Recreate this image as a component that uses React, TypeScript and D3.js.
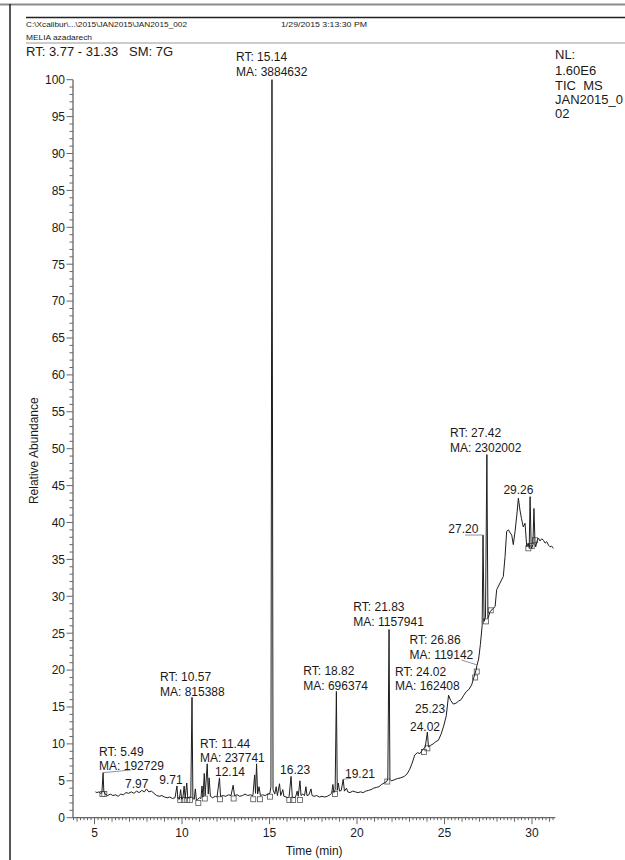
import React from 'react';
import * as d3 from 'd3';

// ---------- data ----------
const traceTime = [
  5.05, 5.15, 5.25, 5.35, 5.42, 5.49, 5.53, 5.6, 5.75, 5.9, 6.05, 6.2, 6.35, 6.5, 6.65, 6.8, 6.95, 7.1, 7.25, 7.4,
  7.55, 7.7, 7.85, 7.97, 8.1, 8.25, 8.4, 8.55, 8.7, 8.85, 9.0, 9.15, 9.3, 9.45, 9.6, 9.71, 9.76, 9.85, 9.92, 9.98,
  10.05, 10.12, 10.18, 10.27, 10.33, 10.42, 10.5, 10.57, 10.62, 10.7, 10.76, 10.82, 10.9, 11.0, 11.08, 11.14, 11.2, 11.27, 11.32, 11.44,
  11.5, 11.55, 11.62, 11.75, 11.9, 12.0, 12.14, 12.2, 12.35, 12.5, 12.65, 12.8, 12.92, 13.0, 13.15, 13.3, 13.45, 13.6, 13.75, 13.9,
  14.05, 14.15, 14.2, 14.26, 14.32, 14.4, 14.48, 14.6, 14.75, 14.9, 15.02, 15.08, 15.14, 15.2, 15.3, 15.38, 15.45, 15.57, 15.64, 15.76,
  15.82, 15.95, 16.05, 16.12, 16.23, 16.3, 16.4, 16.5, 16.58, 16.64, 16.74, 16.8, 16.9, 17.0, 17.08, 17.14, 17.25, 17.37, 17.43, 17.55,
  17.7, 17.85, 18.0, 18.15, 18.3, 18.45, 18.55, 18.62, 18.68, 18.75, 18.82, 18.87, 18.93, 19.0, 19.1, 19.21, 19.28, 19.4, 19.47, 19.6,
  19.75, 19.9, 20.05, 20.2, 20.35, 20.5, 20.65, 20.8, 20.95, 21.1, 21.25, 21.4, 21.55, 21.7, 21.76, 21.83, 21.88, 21.95, 22.1, 22.3,
  22.5, 22.7, 22.85, 23.0, 23.15, 23.3, 23.45, 23.6, 23.75, 23.9, 24.02, 24.08, 24.2, 24.35, 24.5, 24.65, 24.8, 24.95, 25.1, 25.23,
  25.35, 25.5, 25.65, 25.8, 25.95, 26.1, 26.25, 26.4, 26.55, 26.7, 26.8, 26.86, 26.95, 27.05, 27.15, 27.2, 27.26, 27.34, 27.42, 27.48,
  27.6, 27.75, 27.89, 27.98, 28.17, 28.36, 28.46, 28.55, 28.65, 28.75, 28.84, 28.93, 29.03, 29.13, 29.22, 29.31, 29.4, 29.5, 29.6, 29.7,
  29.78, 29.84, 29.89, 29.95, 29.98, 30.05, 30.11, 30.17, 30.21, 30.3, 30.36, 30.45, 30.55, 30.65, 30.75, 30.84, 30.95, 31.03, 31.12, 31.22,
];
const traceAbundance = [
  3.5, 3.4, 3.5, 3.3, 3.4, 6.1, 3.6, 3.2, 3.0, 3.2, 3.0, 3.1, 2.9, 3.2, 3.1, 3.4, 3.3, 3.5, 3.3, 3.6,
  3.4, 3.7, 3.5, 3.9, 3.5, 3.6, 3.3, 3.0, 2.9, 3.0, 2.8, 2.7, 2.8, 2.6, 2.7, 4.3, 2.6, 2.5, 3.8, 2.5,
  2.7, 4.3, 2.6, 4.7, 2.6, 2.8, 2.7, 16.3, 2.6, 2.5, 3.9, 2.4, 2.5, 2.7, 2.6, 4.3, 2.8, 6.0, 3.0, 7.3,
  3.2, 5.4, 2.9, 2.7, 2.9, 2.8, 5.4, 2.9, 3.0, 2.9, 3.1, 3.0, 4.4, 3.0, 3.1, 2.9, 3.0, 3.2, 3.0, 3.1,
  3.0, 5.8, 3.3, 7.3, 3.2, 4.2, 3.0, 3.1, 3.0, 3.2, 3.3, 4.2, 100, 3.8, 3.2, 4.2, 3.0, 4.6, 3.0, 3.8,
  2.9, 2.8, 2.7, 2.9, 5.6, 2.8, 2.7, 2.9, 3.6, 2.9, 5.0, 3.0, 3.2, 3.0, 4.2, 3.0, 3.1, 3.9, 3.0, 2.9,
  3.0, 2.8, 2.9, 2.8, 2.9, 3.1, 3.3, 4.5, 3.4, 3.8, 17.1, 3.7, 4.7, 3.6, 3.7, 5.2, 3.6, 4.0, 3.5, 3.4,
  3.6, 3.5, 3.4, 3.5, 3.4, 3.6, 3.7, 3.8, 4.0, 4.1, 4.2, 4.5, 4.7, 4.9, 5.3, 25.5, 5.2, 5.0, 5.1, 5.3,
  5.4, 5.6, 5.9, 6.5, 7.4, 8.5, 8.8, 8.7, 9.2, 9.6, 11.6, 9.6, 9.8, 10.0, 10.3, 10.5, 11.3, 12.4, 13.8, 16.6,
  15.9, 15.4, 15.5, 15.8, 16.0, 16.6, 17.1, 17.4, 18.0, 19.2, 20.0, 20.7, 21.5, 23.5, 26.0, 38.3, 26.6, 27.2, 49.2, 27.0,
  27.9, 28.3, 28.6, 30.9, 31.8, 32.7, 35.4, 38.8, 39.0, 38.6, 38.3, 37.0, 38.8, 41.0, 43.3, 41.7, 40.5, 39.4, 39.9, 36.7,
  37.2, 36.6, 43.5, 36.8, 36.5, 37.0, 41.9, 37.2, 36.7, 37.6, 37.9, 37.5, 37.8, 37.6, 37.2, 37.4, 36.9, 36.7, 36.8, 36.5,
];

// labelled peaks
const peakRT = [5.49, 7.97, 9.71, 10.57, 11.44, 12.14, 15.14, 16.23, 18.82, 19.21, 21.83, 24.02, 25.23, 24.02, 26.86, 27.2, 27.42, 29.26];
const peakRTText = ['5.49', '7.97', '9.71', '10.57', '11.44', '12.14', '15.14', '16.23', '18.82', '19.21', '21.83', '24.02', '25.23', '24.02', '26.86', '27.20', '27.42', '29.26'];
const peakArea: (number | null)[] = [192729, null, null, 815388, 237741, null, 3884632, null, 696374, null, 1157941, 162408, null, null, 119142, null, 2302002, null];

// peak integration boundary markers
const markerTime = [5.45, 5.56, 9.9, 10.1, 10.3, 10.45, 10.93, 11.3, 12.17, 12.95, 14.07, 14.46, 15.03, 16.13, 16.35, 16.74, 18.74, 21.73, 23.83, 24.02, 26.75, 26.84, 27.37, 27.64, 29.79, 29.98, 30.17];
const markerValue = [3.2, 3.2, 2.4, 2.4, 2.4, 2.4, 2.0, 2.6, 2.5, 2.6, 2.5, 2.5, 2.85, 2.4, 2.4, 2.4, 3.2, 4.9, 8.9, 9.4, 19.0, 19.8, 26.6, 28.1, 36.5, 36.8, 37.6];

const xMajorTicks = [5, 10, 15, 20, 25, 30];
const yMajorTicks = [0, 5, 10, 15, 20, 25, 30, 35, 40, 45, 50, 55, 60, 65, 70, 75, 80, 85, 90, 95, 100];

const headerPath = 'C:\\Xcalibur\\...\\2015\\JAN2015\\JAN2015_002';
const headerDate = '1/29/2015 3:13:30 PM';
const headerSample = 'MELIA azadarech';
const rangeText = 'RT: 3.77 - 31.33   SM: 7G';
const nlLines = ['NL:', '1.60E6', 'TIC  MS', 'JAN2015_0', '02'];
const xTitle = 'Time (min)';
const yTitle = 'Relative Abundance';

// ---------- layout (pixel offsets of labels relative to peak apex) ----------
const labelDx = [-4, -21.5, -17.6, -32, -7.2, -4.5, -36, -11, -33.1, 1.8, -35.7, -32.4, -33.5, -17.4, -67.6, -34.7, -36.9, -15.7];
const labelDy = [-16.7, -1.3, -1.7, -16.4, -16.2, -1.8, -18.7, -2.1, -16.5, -1.7, -18.5, -56.1, 17.4, -1.1, -20.6, -2.4, -17.6, -3.9];
const leaderEnd: ([number, number] | null)[] = [
  [28, -2.7], null, null, null, null, null, null, null, null, [8, -1], null, null, null, null, [-15.6, -4.9], [-18, 0], null, null,
];

const W = 625;
const H = 860;
const FONT = '"Liberation Sans", Arial, "DejaVu Sans", sans-serif';

export default function App() {
  const x = d3.scaleLinear().domain([3.77, 31.33]).range([73, 555.3]);
  const y = d3.scaleLinear().domain([0, 100]).range([817.7, 79.7]);

  const pts: [number, number][] = traceTime.map((t, i) => [t, traceAbundance[i]]);
  const line = d3
    .line<[number, number]>()
    .x((d) => x(d[0]))
    .y((d) => y(d[1]));

  const apexValue = (rt: number) => {
    let best = 0;
    pts.forEach(([t, v]) => {
      if (Math.abs(t - rt) <= 0.061 && v > best) best = v;
    });
    return best;
  };

  const xMinor = d3.range(3.8, 31.33, 0.2).map((v) => Math.round(v * 10) / 10);
  const yMinor = d3.range(0, 101, 1);

  const axisColor = '#666';
  const textColor = '#1a1a1a';
  const y0 = y(0);
  const xAxisLeft = x(3.77);

  return (
    <svg
      width={W}
      height={H}
      style={{ position: 'absolute', left: 0, top: 0, background: '#fff' }}
      fontFamily={FONT}
    >
      <rect x={0} y={0} width={W} height={H} fill="#fff" />
      {/* page frame */}
      <line x1={0} x2={W} y1={4.5} y2={4.5} stroke="#8a8a8a" strokeWidth={2} />
      <line x1={10} x2={10} y1={4} y2={H} stroke="#111" strokeWidth={1.4} />
      {/* header */}
      <line x1={26} x2={W} y1={17.5} y2={17.5} stroke="#222" strokeWidth={1.6} />
      <text x={26} y={27} fontSize={8} fill={textColor} textLength={161} lengthAdjust="spacingAndGlyphs">
        {headerPath}
      </text>
      <text x={281} y={27} fontSize={8} fill={textColor} textLength={86} lengthAdjust="spacingAndGlyphs">
        {headerDate}
      </text>
      <text x={26} y={40} fontSize={8} fill={textColor} textLength={66} lengthAdjust="spacingAndGlyphs">
        {headerSample}
      </text>
      <line x1={26} x2={W} y1={43} y2={43} stroke="#999" strokeWidth={1} />
      <text x={26} y={56} fontSize={13} fill={textColor} style={{ whiteSpace: 'pre' }}>
        {rangeText}
      </text>

      {/* NL block */}
      {nlLines.map((s, i) => (
        <text key={s} x={555} y={[59, 75, 90, 104, 118][i]} fontSize={13} fill={textColor} style={{ whiteSpace: 'pre' }}>
          {s}
        </text>
      ))}

      {/* y axis */}
      <line x1={xAxisLeft} x2={xAxisLeft} y1={y(100)} y2={y0} stroke={axisColor} strokeWidth={1.3} />
      {yMinor.map((v) => (
        <line
          key={'ym' + v}
          x1={xAxisLeft - (v % 5 === 0 ? 6.5 : 3.5)}
          x2={xAxisLeft}
          y1={y(v)}
          y2={y(v)}
          stroke={axisColor}
          strokeWidth={1}
        />
      ))}
      {yMajorTicks.map((v) => (
        <text key={'yl' + v} x={xAxisLeft - 8} y={y(v) + 4.3} fontSize={12} textAnchor="end" fill={textColor}>
          {v}
        </text>
      ))}
      <text
        transform={`translate(38,${(y(0) + y(100)) / 2 + 2}) rotate(-90)`}
        fontSize={12}
        textAnchor="middle"
        fill={textColor}
      >
        {yTitle}
      </text>

      {/* x axis */}
      <line x1={xAxisLeft} x2={x(31.33)} y1={y0} y2={y0} stroke={axisColor} strokeWidth={1.3} />
      {xMinor.map((v) => {
        const major = Math.abs(v % 5) < 0.01 || Math.abs((v % 5) - 5) < 0.01;
        const whole = Math.abs(v - Math.round(v)) < 0.01;
        return (
          <line
            key={'xm' + v}
            x1={x(v)}
            x2={x(v)}
            y1={y0}
            y2={y0 + (major ? 6.5 : whole ? 4 : 2.5)}
            stroke={axisColor}
            strokeWidth={1}
          />
        );
      })}
      {xMajorTicks.map((v) => (
        <text key={'xl' + v} x={x(v)} y={837} fontSize={12} textAnchor="middle" fill={textColor}>
          {v}
        </text>
      ))}
      <text x={(x(3.77) + x(31.33)) / 2} y={855} fontSize={12} textAnchor="middle" fill={textColor}>
        {xTitle}
      </text>

      {/* markers */}
      {markerTime.map((t, i) => (
        <rect
          key={'mk' + i}
          x={x(t) - 2.5}
          y={y(markerValue[i]) - 2.5}
          width={5}
          height={5}
          fill="none"
          stroke="#555"
          strokeWidth={0.8}
        />
      ))}

      {/* trace */}
      <path d={line(pts) || ''} fill="none" stroke="#1e1e1e" strokeWidth={1} strokeLinejoin="round" />

      {/* peak labels */}
      {peakRT.map((rt, i) => {
        const ax = x(rt);
        const ay = y(apexValue(rt));
        const lx = ax + labelDx[i];
        const ly = ay + labelDy[i];
        const area = peakArea[i];
        const le = leaderEnd[i];
        return (
          <g key={'pk' + i}>
            {le && <line x1={ax} y1={ay} x2={ax + le[0]} y2={ay + le[1]} stroke="#777" strokeWidth={0.8} />}
            {area !== null ? (
              <>
                <text x={lx} y={ly} fontSize={12} fill={textColor}>
                  {'RT: ' + peakRTText[i]}
                </text>
                <text x={lx} y={ly + 14.5} fontSize={12} fill={textColor}>
                  {'MA: ' + area}
                </text>
              </>
            ) : (
              <text x={lx} y={ly} fontSize={12} fill={textColor}>
                {peakRTText[i]}
              </text>
            )}
          </g>
        );
      })}
    </svg>
  );
}
